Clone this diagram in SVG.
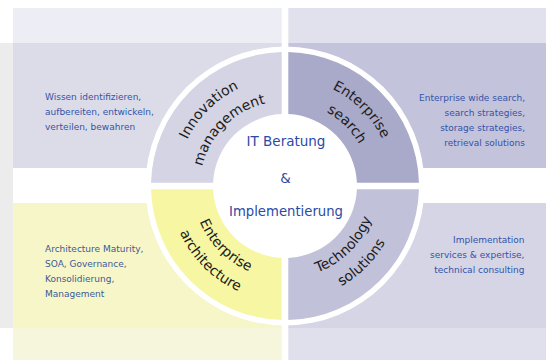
<svg xmlns="http://www.w3.org/2000/svg" width="546" height="360" viewBox="0 0 546 360">
<style>
.desc{font-family:"DejaVu Sans","Verdana",sans-serif;font-size:9px;fill:#3353a8}
.ring{font-family:"DejaVu Sans","Verdana",sans-serif;font-size:14px;fill:#1c1c1c}
.core{font-family:"DejaVu Sans","Verdana",sans-serif;font-size:13.5px;fill:#2b4aa6;text-anchor:middle}
</style>
<defs>
<path id="tlO" d="M177,186 A108,108 0 0 1 285,78"/>
<path id="tlI" d="M200,186 A85,85 0 0 1 285,101"/>
<path id="trO" d="M285,78 A108,108 0 0 1 393,186"/>
<path id="trI" d="M285,101 A85,85 0 0 1 370,186"/>
<path id="blI" d="M192.5,186 A92.5,92.5 0 0 0 285,278.5"/>
<path id="blO" d="M170,186 A115,115 0 0 0 285,301"/>
<path id="brI" d="M285,278.5 A92.5,92.5 0 0 0 377.5,186"/>
<path id="brO" d="M285,301 A115,115 0 0 0 400,186"/>
</defs>
<rect width="546" height="360" fill="#ffffff"/>
<g id="background">
<rect x="0" y="43" width="13" height="285" fill="#ececec"/>
<rect x="13" y="8" width="268.7" height="35" fill="#ededf5"/>
<rect x="288.3" y="8" width="257.7" height="35" fill="#e1e1ed"/>
<rect x="13" y="43" width="268.7" height="125" fill="#dcdce9"/>
<rect x="288.3" y="43" width="257.7" height="125" fill="#c3c3db"/>
<rect x="13" y="203" width="268.7" height="125" fill="#f6f6c8"/>
<rect x="288.3" y="203" width="257.7" height="125" fill="#d5d5e6"/>
<rect x="13" y="328" width="268.7" height="32" fill="#f6f6dc"/>
<rect x="288.3" y="328" width="257.7" height="32" fill="#e0e0ed"/>
<circle cx="285" cy="186" r="139.5" fill="#ffffff"/>
</g>
<g id="connectors"/>
<g id="innovation">
<path d="M151.04,182.7 A134,134 0 0 1 281.7,52.04 L281.7,114.08 A72,72 0 0 0 213.08,182.7 Z" fill="#d4d4e4"/>
<text class="ring"><textPath href="#tlO" startOffset="50%" text-anchor="middle">Innovation</textPath></text>
<text class="ring"><textPath href="#tlI" startOffset="50%" text-anchor="middle">management</textPath></text>
<text class="desc" x="45" y="100">Wissen identifizieren,</text>
<text class="desc" x="45" y="115">aufbereiten, entwickeln,</text>
<text class="desc" x="45" y="130">verteilen, bewahren</text>
</g>
<g id="search">
<path d="M288.3,52.04 A134,134 0 0 1 418.96,182.7 L356.92,182.7 A72,72 0 0 0 288.3,114.08 Z" fill="#a9a9c9"/>
<text class="ring"><textPath href="#trO" startOffset="50%" text-anchor="middle">Enterprise</textPath></text>
<text class="ring"><textPath href="#trI" startOffset="50%" text-anchor="middle">search</textPath></text>
<g text-anchor="end">
<text class="desc" x="525" y="101">Enterprise wide search,</text>
<text class="desc" x="525" y="116">search strategies,</text>
<text class="desc" x="525" y="131">storage strategies,</text>
<text class="desc" x="525" y="146">retrieval solutions</text>
</g>
</g>
<g id="architecture">
<path d="M151.04,189.3 L213.08,189.3 A72,72 0 0 0 281.7,257.92 L281.7,319.96 A134,134 0 0 1 151.04,189.3 Z" fill="#f7f7a3"/>
<text class="ring"><textPath href="#blI" startOffset="50%" text-anchor="middle">Enterprise</textPath></text>
<text class="ring"><textPath href="#blO" startOffset="50%" text-anchor="middle">architecture</textPath></text>
<text class="desc" x="45" y="252" style="fill:#3d5a98">Architecture Maturity,</text>
<text class="desc" x="45" y="267" style="fill:#3d5a98">SOA, Governance,</text>
<text class="desc" x="45" y="282" style="fill:#3d5a98">Konsolidierung,</text>
<text class="desc" x="45" y="297" style="fill:#3d5a98">Management</text>
</g>
<g id="technology">
<path d="M288.3,257.92 A72,72 0 0 0 356.92,189.3 L418.96,189.3 A134,134 0 0 1 288.3,319.96 Z" fill="#c1c1da"/>
<text class="ring"><textPath href="#brI" startOffset="50%" text-anchor="middle">Technology</textPath></text>
<text class="ring"><textPath href="#brO" startOffset="50%" text-anchor="middle">solutions</textPath></text>
<g text-anchor="end">
<text class="desc" x="524.5" y="243">Implementation</text>
<text class="desc" x="524.5" y="258">services &amp; expertise,</text>
<text class="desc" x="524.5" y="273">technical consulting</text>
</g>
</g>
<g id="center">
<text class="core" x="286" y="145.5">IT Beratung</text>
<text class="core" x="285.5" y="182.5">&amp;</text>
<text class="core" x="286" y="216" textLength="114" lengthAdjust="spacingAndGlyphs">Implementierung</text>
</g>
</svg>
